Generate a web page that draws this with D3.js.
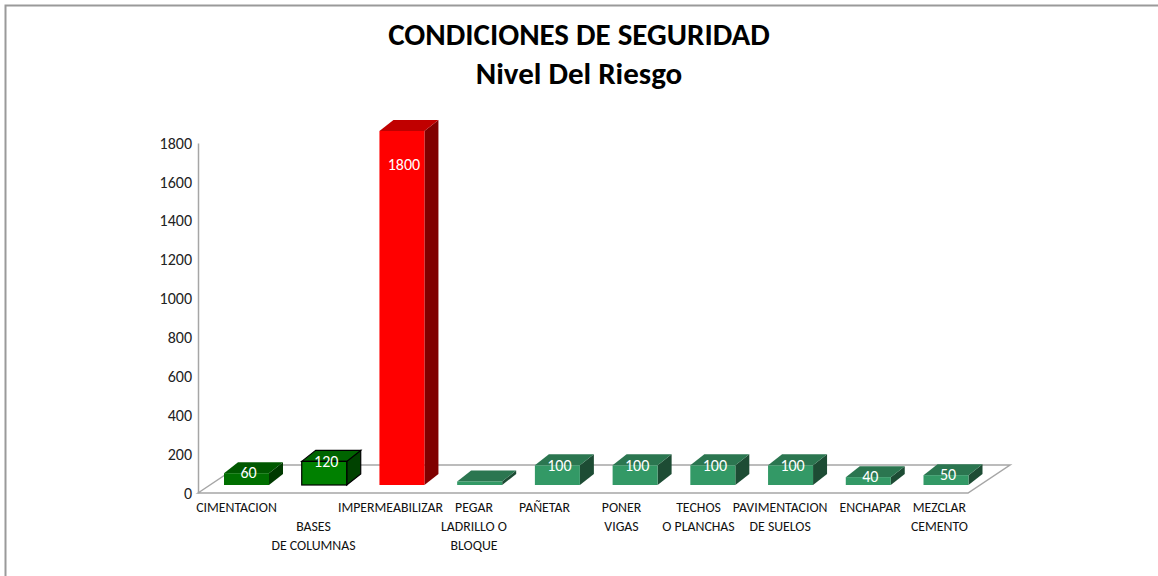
<!DOCTYPE html>
<html>
<head>
<meta charset="utf-8">
<script src="https://cdn.jsdelivr.net/npm/d3@7"></script>
<style>
  html, body { margin: 0; padding: 0; background: #fff; }
  svg { display: block; }
  text { font-family: Carlito, Lato, "Open Sans", sans-serif; }
</style>
</head>
<body>
<svg id="chart" width="1158" height="576"></svg>
<script>
// ---- data ----
const categories = ["CIMENTACION", "BASES DE COLUMNAS", "IMPERMEABILIZAR", "PEGAR LADRILLO O BLOQUE",
  "PAÑETAR", "PONER VIGAS", "TECHOS O PLANCHAS", "PAVIMENTACION DE SUELOS", "ENCHAPAR", "MEZCLAR CEMENTO"];
const categoryLines = [
  ["CIMENTACION"], ["", "BASES", "DE COLUMNAS"], ["IMPERMEABILIZAR"], ["PEGAR", "LADRILLO O", "BLOQUE"],
  ["PAÑETAR"], ["PONER", "VIGAS"], ["TECHOS", "O PLANCHAS"], ["PAVIMENTACION", "DE SUELOS"], ["ENCHAPAR"], ["MEZCLAR", "CEMENTO"]
];
const values = [60, 120, 1800, 18, 100, 100, 100, 100, 40, 50];
const valueLabels = ["60", "120", "1800", "", "100", "100", "100", "100", "40", "50"];
const yTicks = [0, 200, 400, 600, 800, 1000, 1200, 1400, 1600, 1800];
const titleLines = ["CONDICIONES DE SEGURIDAD", "Nivel Del Riesgo"];
const barColors = [
  {front: "#006f00", top: "#005800", side: "#003a00", stroke: "none"},
  {front: "#008000", top: "#006400", side: "#004200", stroke: "#000"},
  {front: "#ff0000", top: "#c00000", side: "#800000", stroke: "none"},
  {front: "#339966", top: "#2b7650", side: "#1d4c34", stroke: "none"},
  {front: "#339966", top: "#2b7650", side: "#1d4c34", stroke: "none"},
  {front: "#339966", top: "#2b7650", side: "#1d4c34", stroke: "none"},
  {front: "#339966", top: "#2b7650", side: "#1d4c34", stroke: "none"},
  {front: "#339966", top: "#2b7650", side: "#1d4c34", stroke: "none"},
  {front: "#339966", top: "#2b7650", side: "#1d4c34", stroke: "none"},
  {front: "#339966", top: "#2b7650", side: "#1d4c34", stroke: "none"}
];

const svg = d3.select("#chart");

// border
svg.append("path").attr("d", "M5.5,576 L5.5,5.5 L1158,5.5")
  .attr("fill", "none").attr("stroke", "#9a9a9a").attr("stroke-width", 2);

// titles
svg.append("text").attr("x", 579).attr("y", 45).attr("text-anchor", "middle")
  .attr("font-size", 31).attr("font-weight", "bold").attr("fill", "#000").text(titleLines[0]);
svg.append("text").attr("x", 579).attr("y", 84).attr("text-anchor", "middle")
  .attr("font-size", 31).attr("font-weight", "bold").attr("fill", "#000").text(titleLines[1]);

// scales
const yAxisScale = d3.scaleLinear().domain([0, 1800]).range([493, 143]);
const yBar = d3.scaleLinear().domain([0, 1800]).range([485, 131]);
const x = d3.scalePoint().domain(categories).range([246.5, 946]);
const floorLeft = 198, floorRight = 968, floorFront = 493, fdx = 42, fdy = 28;
const xLabel = d3.scaleBand().domain(categories).range([floorLeft, floorRight]);
const barW = 45, dx = 14, dy = 11;

// floor
svg.append("path")
  .attr("d", `M${floorLeft},${floorFront} L${floorLeft + fdx},${floorFront - fdy} L${floorRight + fdx},${floorFront - fdy} L${floorRight},${floorFront} Z`)
  .attr("fill", "none").attr("stroke", "#a6a6a6").attr("stroke-width", 1.5);

// y axis
const yAxis = d3.axisLeft(yAxisScale).tickValues(yTicks).tickFormat(d3.format("d")).tickSize(0).tickPadding(6);
const gy = svg.append("g").attr("transform", `translate(${floorLeft},0)`).call(yAxis);
gy.select(".domain").attr("stroke", "#a6a6a6").attr("stroke-width", 1.5);
gy.selectAll("text").attr("font-size", 16).attr("fill", "#222")
  .style("font-family", "Carlito, Lato, 'Open Sans', sans-serif");

// bars
const bars = svg.append("g").selectAll("g").data(categories).join("g");
bars.each(function(c, i) {
  const g = d3.select(this);
  const x0 = x(c) - barW / 2, x1 = x0 + barW;
  const yb = yBar(0), yt = yBar(values[i]);
  const col = barColors[i];
  const sw = col.stroke === "none" ? 0 : 1.2;
  g.append("path").attr("d", `M${x1},${yt} L${x1 + dx},${yt - dy} L${x1 + dx},${yb - dy} L${x1},${yb} Z`)
    .attr("fill", col.side).attr("stroke", col.stroke).attr("stroke-width", sw);
  g.append("path").attr("d", `M${x0},${yt} L${x0 + dx},${yt - dy} L${x1 + dx},${yt - dy} L${x1},${yt} Z`)
    .attr("fill", col.top).attr("stroke", col.stroke).attr("stroke-width", sw);
  g.append("rect").attr("x", x0).attr("y", yt).attr("width", barW).attr("height", yb - yt)
    .attr("fill", col.front).attr("stroke", col.stroke).attr("stroke-width", sw);
  if (valueLabels[i]) {
    const h = yb - yt;
    g.append("text").attr("x", x(c) + 2).attr("y", yt + 0.1 * h - 2)
      .attr("dy", "0.35em").attr("text-anchor", "middle")
      .attr("font-size", 16).attr("fill", "#fff").text(valueLabels[i]);
  }
});

// category labels with simple per-row overlap avoidance
const labelG = svg.append("g");
const prevRight = [-Infinity, -Infinity, -Infinity];
const gap = 12;
categories.forEach((c, i) => {
  const center0 = xLabel(c) + xLabel.bandwidth() / 2;
  const t = labelG.append("text").attr("text-anchor", "middle").attr("font-size", 13.8).attr("fill", "#111");
  const spans = [];
  categoryLines[i].forEach((line, k) => {
    if (line) spans.push({k, node: t.append("tspan").attr("x", center0).attr("y", 512 + k * 19).text(line)});
  });
  let shift = 0;
  spans.forEach(s => {
    const w = s.node.node().getComputedTextLength();
    const left = center0 - w / 2;
    shift = Math.max(shift, prevRight[s.k] + gap - left);
    s.w = w;
  });
  spans.forEach(s => {
    s.node.attr("x", center0 + shift);
    prevRight[s.k] = center0 + shift + s.w / 2;
  });
});
</script>
</body>
</html>
